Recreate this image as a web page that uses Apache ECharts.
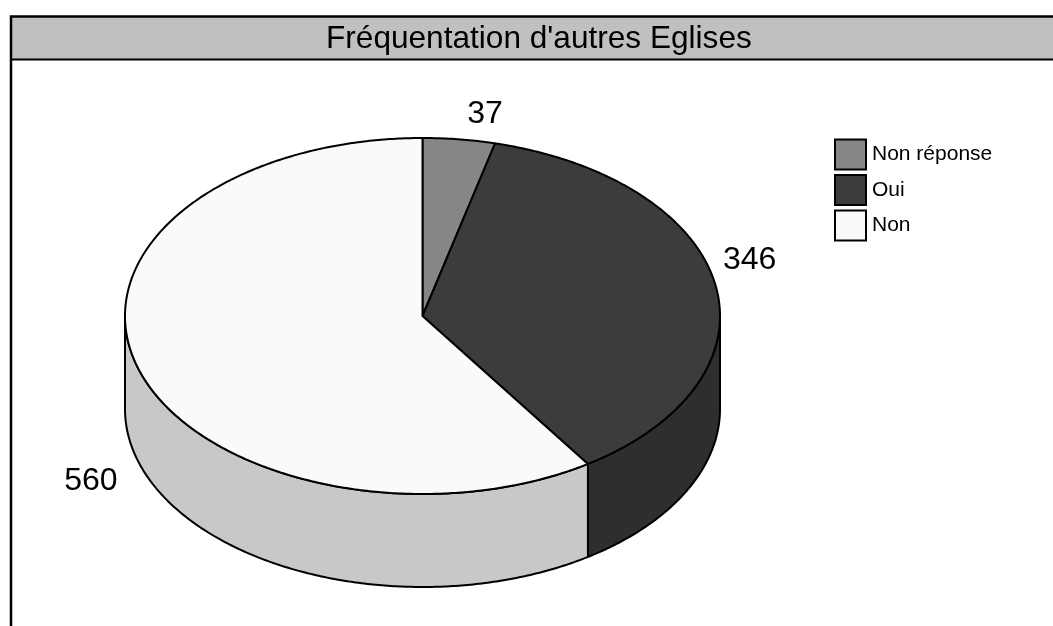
<!DOCTYPE html>
<html><head><meta charset="utf-8">
<style>html,body{margin:0;padding:0;background:#fff}#c{width:1053px;height:626px}</style>
<script src="https://cdn.jsdelivr.net/npm/echarts@6/dist/echarts.min.js"></script>
</head><body><div id="c"></div>
<script>
const titleText = "Fréquentation d'autres Eglises";
const categories = ["Non réponse", "Oui", "Non"];
const values = [37, 346, 560];
const topColors = ["#868686", "#3c3c3c", "#fafafa"];
const wallColors = ["#6c6c6c", "#2e2e2e", "#c8c8c8"];
const labelOffsets = [[26, -25], [34, -25], [-47, 113]];

const FONT = '"Liberation Sans", Arial, sans-serif';
const DEPTH = 93 / 178;
const total = values.reduce((a, b) => a + b, 0);
const starts = values.map((_, i) => values.slice(0, i).reduce((a, b) => a + b, 0) / total * 2 * Math.PI);
const ends = values.map((v, i) => starts[i] + v / total * 2 * Math.PI);
const pt = (a, dy) => [Math.sin(a), Math.cos(a) - (dy || 0)];
function arc(a0, a1, dy) {
  const n = Math.max(2, Math.ceil(Math.abs(a1 - a0) / 0.01));
  const out = [];
  for (let k = 0; k <= n; k++) out.push(pt(a0 + (a1 - a0) * k / n, dy));
  return out;
}
const stroke = { stroke: '#000', lineWidth: 2, lineJoin: 'round' };

function renderSlice(i) {
  return function (params, api) {
    const c = p => api.coord(p);
    const children = [];
    const wallStart = Math.max(starts[i], Math.PI / 2);
    const wallEnd = Math.min(ends[i], Math.PI * 3 / 2);
    if (wallEnd > wallStart) {
      const wall = arc(wallStart, wallEnd, 0).concat(arc(wallEnd, wallStart, DEPTH)).map(c);
      children.push({ type: 'polygon', shape: { points: wall },
        style: Object.assign({ fill: wallColors[i] }, stroke) });
    }
    const top = [[0, 0]].concat(arc(starts[i], ends[i], 0)).map(c);
    children.push({ type: 'polygon', shape: { points: top },
      style: Object.assign({ fill: topColors[i] }, stroke) });
    const mid = c(pt((starts[i] + ends[i]) / 2, 0));
    children.push({ type: 'text', x: mid[0] + labelOffsets[i][0], y: mid[1] + labelOffsets[i][1],
      style: { text: String(api.value(0)), font: '32px ' + FONT, fill: '#000', align: 'center', verticalAlign: 'middle' } });
    return { type: 'group', children };
  };
}

const chart = echarts.init(document.getElementById('c'), null, { renderer: 'canvas' });
chart.setOption({
  animation: false,
  backgroundColor: '#fff',
  title: { text: titleText, left: 321, top: 18,
    textStyle: { fontFamily: FONT, fontSize: 31.6, fontWeight: 'normal', color: '#000' } },
  legend: { orient: 'vertical', left: 834, top: 138.5, itemWidth: 31, itemHeight: 30, itemGap: 3.5,
    icon: 'rect', padding: 0, data: categories, selectedMode: false,
    itemStyle: { borderColor: '#000', borderWidth: 2 },
    textStyle: { fontFamily: FONT, fontSize: 21, color: '#000', padding: [0, 0, 8, 1] } },
  grid: { left: 125, top: 138, width: 595, height: 356 },
  xAxis: { type: 'value', min: -1, max: 1, show: false },
  yAxis: { type: 'value', min: -1, max: 1, show: false },
  graphic: [
    { type: 'rect', z: -10, shape: { x: 11, y: 17, width: 1042, height: 42 }, style: { fill: '#c0c0c0' } },
    { type: 'polyline', z: -9, shape: { points: [[11, 626], [11, 16.5], [1053, 16.5]] }, style: { stroke: '#000', lineWidth: 2.5, fill: null } },
    { type: 'line', z: -9, shape: { x1: 11, y1: 59.5, x2: 1053, y2: 59.5 }, style: { stroke: '#000', lineWidth: 2 } }
  ],
  series: categories.map((name, i) => ({
    type: 'custom', name, coordinateSystem: 'cartesian2d', clip: false,
    itemStyle: { color: topColors[i] },
    data: [[values[i]]], encode: { x: 0, y: 0 }, renderItem: renderSlice(i), silent: true
  }))
});
</script></body></html>
